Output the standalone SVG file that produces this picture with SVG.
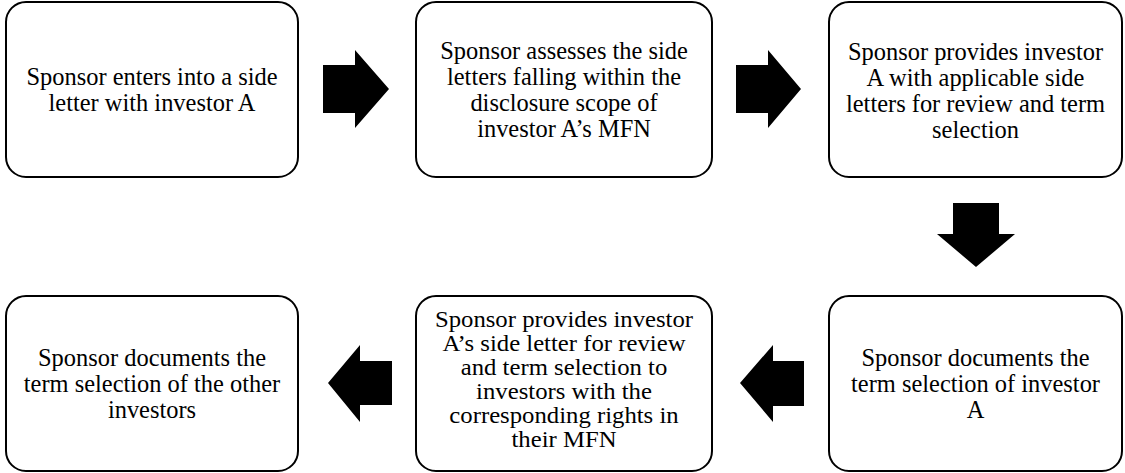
<svg xmlns="http://www.w3.org/2000/svg" width="1125" height="473" viewBox="0 0 1125 473">
<style>
.box{fill:#fff;stroke:#000;stroke-width:2}
.lbl{font-family:"Liberation Serif","Times New Roman",serif;font-size:26px;fill:#000;text-anchor:middle}
.arr{fill:#000;stroke:none}
</style>
<rect width="1125" height="473" fill="#fff"/>
<g id="connectors">
<polygon class="arr" points="323,65 355,65 355,50 389,89 355,128 355,113 323,113"/>
<polygon class="arr" points="736,65 768,65 768,50 801,89 768,128 768,113 736,113"/>
<polygon class="arr" points="953,203 999,203 999,234 1015,234 976,267 937,234 953,234"/>
<polygon class="arr" points="804,361 773,361 773,345 740,383 773,422 773,406 804,406"/>
<polygon class="arr" points="392,361 360,361 360,345 328,383 360,422 360,405 392,405"/>
</g>
<g id="node1">
<rect class="box" x="6" y="2" width="292" height="175" rx="20"/>
<text class="lbl" transform="translate(152,0) scale(0.94,1)"><tspan x="0" y="85">Sponsor enters into a side</tspan><tspan x="0" y="111">letter with investor A</tspan></text>
</g>
<g id="node2">
<rect class="box" x="416" y="2" width="296" height="175" rx="20"/>
<text class="lbl" transform="translate(564,0) scale(0.94,1)"><tspan x="0" y="59">Sponsor assesses the side</tspan><tspan x="0" y="85">letters falling within the</tspan><tspan x="0" y="111">disclosure scope of</tspan><tspan x="0" y="137">investor A’s MFN</tspan></text>
</g>
<g id="node3">
<rect class="box" x="829" y="2" width="293" height="175" rx="20"/>
<text class="lbl" transform="translate(975.5,0) scale(0.94,1)"><tspan x="0" y="60">Sponsor provides investor</tspan><tspan x="0" y="86">A with applicable side</tspan><tspan x="0" y="112">letters for review and term</tspan><tspan x="0" y="138">selection</tspan></text>
</g>
<g id="node4">
<rect class="box" x="829" y="296" width="293" height="175" rx="20"/>
<text class="lbl" transform="translate(975.5,0) scale(0.94,1)"><tspan x="0" y="366">Sponsor documents the</tspan><tspan x="0" y="392">term selection of investor</tspan><tspan x="0" y="418">A</tspan></text>
</g>
<g id="node5">
<rect class="box" x="416" y="296" width="296" height="175" rx="20"/>
<text class="lbl" style="font-size:24px" transform="translate(564,0) scale(1.03,1)"><tspan x="0" y="327">Sponsor provides investor</tspan><tspan x="0" y="351">A’s side letter for review</tspan><tspan x="0" y="375">and term selection to</tspan><tspan x="0" y="399">investors with the</tspan><tspan x="0" y="423">corresponding rights in</tspan><tspan x="0" y="447">their MFN</tspan></text>
</g>
<g id="node6">
<rect class="box" x="6" y="296" width="292" height="175" rx="20"/>
<text class="lbl" transform="translate(152,0) scale(0.94,1)"><tspan x="0" y="366">Sponsor documents the</tspan><tspan x="0" y="392">term selection of the other</tspan><tspan x="0" y="418">investors</tspan></text>
</g>
</svg>
